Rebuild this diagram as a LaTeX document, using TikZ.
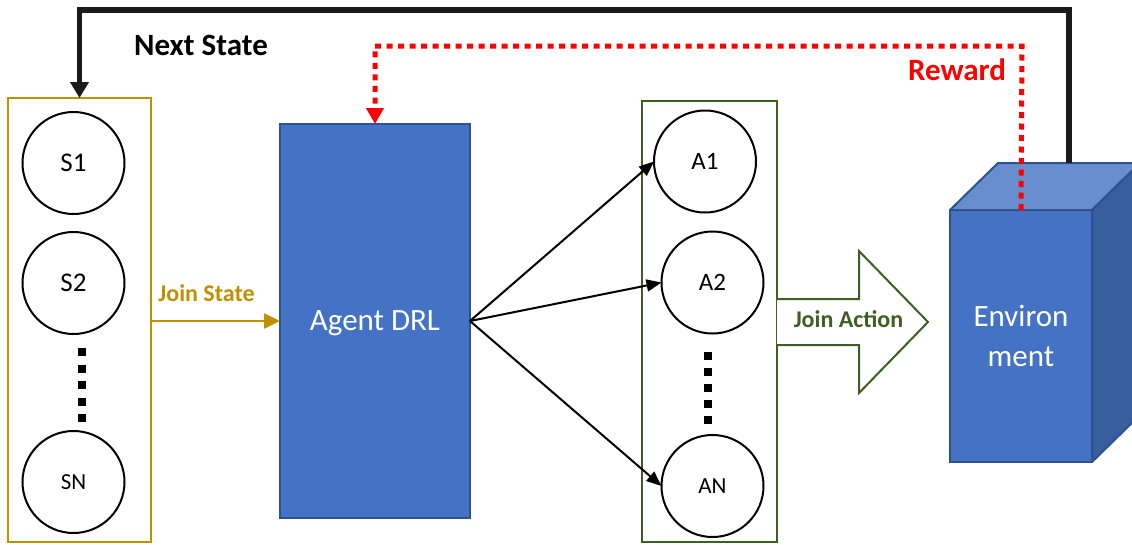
\documentclass[tikz,border=0pt]{standalone}
\usepackage{fontspec}
\setmainfont{Carlito}
\usetikzlibrary{arrows.meta}
\definecolor{gold}{HTML}{BF9000}
\definecolor{leaf}{HTML}{3D5F22}
\definecolor{boxblue}{HTML}{4472C4}
\definecolor{edgeblue}{HTML}{2F528F}
\definecolor{topblue}{HTML}{698ED0}
\definecolor{sideblue}{HTML}{375E9D}
\definecolor{ink}{HTML}{1A1A1A}
\begin{document}
\begin{tikzpicture}[x=1pt,y=-1pt,
  every node/.style={inner sep=0pt, outer sep=0pt},
  ball/.style={circle, draw=black, line width=2pt, minimum size=102pt,
    font=\fontsize{27}{30}\selectfont},
  smallball/.style={ball, font=\fontsize{23}{26}\selectfont},
  aball/.style={ball, font=\fontsize{25}{28}\selectfont},
  groupbox/.style={draw, line width=2.5pt, fill=none},
  bluebox/.style={draw=edgeblue, fill=boxblue, line width=2pt, text=white,
    align=center, font=\fontsize{31}{40}\selectfont},
  cubeface/.style={draw=edgeblue, line width=2pt, line join=round},
  label/.style={anchor=base, font=\bfseries\fontsize{24}{28}\selectfont},
  biglabel/.style={anchor=base, font=\bfseries\fontsize{31}{36}\selectfont},
  thinarrow/.style={draw=black, line width=2pt, -{Triangle[length=15pt,width=12pt]}},
  vdots/.style={draw=black, line width=8pt, dash pattern=on 8pt off 8.5pt},
]
\clip (0,0) rectangle (1132,544);
\fill[white] (0,0) rectangle (1132,544);

% state group
\node[groupbox, draw=gold, minimum width=143pt, minimum height=444pt] (sbox) at (79.5,320) {};
\node[ball] (s1) at (73.5,163) {S1};
\node[ball] (s2) at (73.5,283) {S2};
\node[smallball] (sn) at (73.5,482) {SN};
\draw[vdots] (82,348) -- (82,422);

% agent
\node[bluebox, text depth=0pt, minimum width=190pt, minimum height=394pt] (agent) at (375,321) {Agent DRL};

% action group
\node[groupbox, draw=leaf, minimum width=135pt, minimum height=441pt] (abox) at (709.5,321.5) {};
\node[aball] (a1) at (705,161.5) {A1};
\node[aball] (a2) at (712.5,282.5) {A2};
\node[smallball] (an) at (712.5,486) {AN};
\draw[vdots, dash pattern=on 8pt off 8pt] (708,352) -- (708,424);

% environment cube
\node[bluebox, minimum width=142pt, minimum height=252pt] (env) at (1021,336) {Environ\\ment};
\draw[cubeface, fill=topblue] (env.north west) -- ++(48,-47)
  -- ([shift={(48,-47)}]env.north east) -- (env.north east) -- cycle;
\draw[cubeface, fill=sideblue] (env.north east) -- ++(48,-47)
  -- ([shift={(48,-47)}]env.south east) -- (env.south east) -- cycle;
\coordinate (nsstart) at (1069,163);
\coordinate (rwstart) at (env.north);

% joint state
\draw[draw=gold, line width=2.5pt, -{Triangle[length=16pt,width=15pt]}]
  (sbox.east |- agent.west) -- (agent.west);
\node[label, text=gold] (jstate) at (206.5,301) {Join State};

% agent to actions
\draw[thinarrow] (agent.east) -- (a1.west);
\draw[thinarrow] (agent.east) -- (a2.west);
\draw[thinarrow] (agent.east) -- (an.west);

% joint action block arrow
\draw[draw=leaf, line width=2pt, line join=miter, fill=white]
  (777,299) -- (859,299) -- (859,251) -- (928,322) -- (859,393) -- (859,345) -- (777,345);
\node[label, text=leaf] (jaction) at (848.5,327) {Join Action};

% next state feedback
\draw[draw=ink, line width=5.5pt, -{Triangle[length=16pt,width=18pt]}]
  (nsstart) -- (1069,10) -| (sbox.north);
\node[biglabel, text=black] (nslabel) at (201,55) {Next State};

% reward feedback
\draw[draw=red, line width=5pt, dash pattern=on 6pt off 5.5pt,
  -{Triangle[length=16pt,width=17pt]}]
  (rwstart) -- (1022,46) -| (agent.north);
\node[biglabel, text=red] (rwlabel) at (957,80) {Reward};
\end{tikzpicture}
\end{document}
